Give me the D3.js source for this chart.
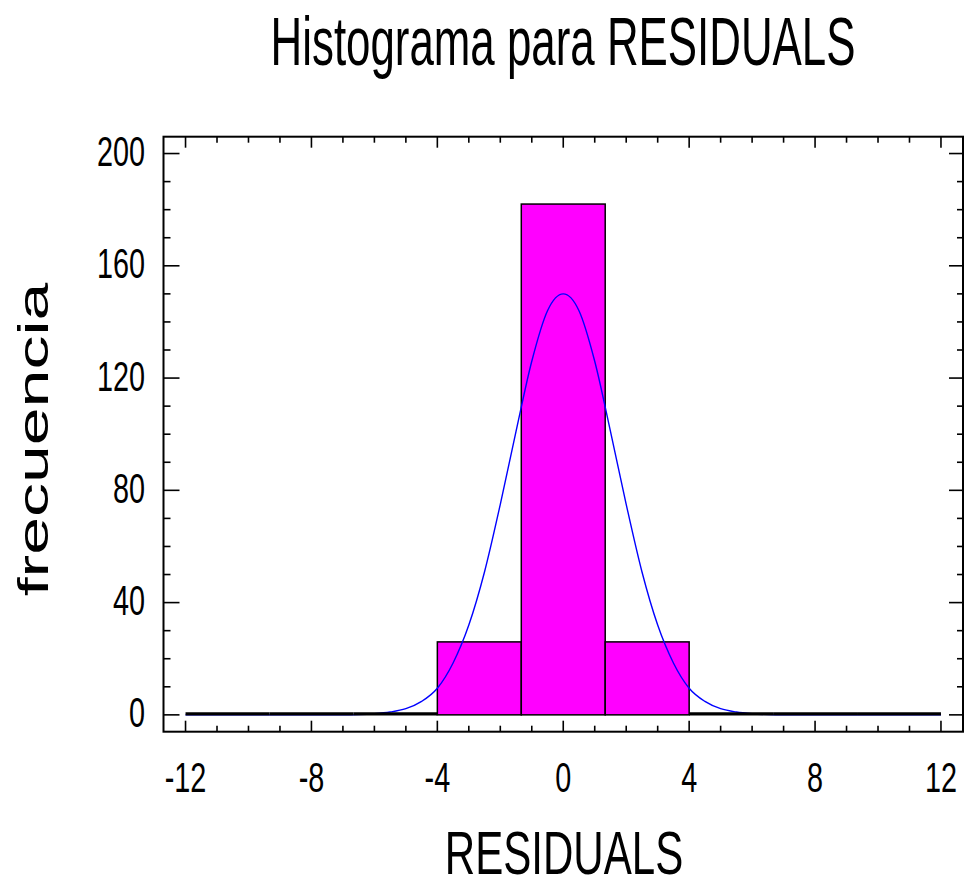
<!DOCTYPE html>
<html>
<head>
<meta charset="utf-8">
<script src="https://cdn.jsdelivr.net/npm/d3@7"></script>
<style>
  html, body { margin: 0; padding: 0; background: #fff; }
  svg { display: block; }
  text { font-family: "Liberation Sans", Arial, sans-serif; fill: #000; }
</style>
</head>
<body>
<svg id="chart" width="964" height="886"></svg>
<script>
// Histogram bins (lower/upper edges) and counts for RESIDUALS
const binLower = [-12, -9.333, -6.667, -4, -1.333, 1.333, 4, 6.667, 9.333];
const binUpper = [-9.333, -6.667, -4, -1.333, 1.333, 4, 6.667, 9.333, 12];
const counts   = [0, 0, 0, 26, 182, 26, 0, 0, 0];

// Fitted normal density, scaled to frequency
const curveX = [-12, -7, -6.5, -6, -5.5, -5, -4.5, -4, -3.5, -3, -2.5, -2, -1.5, -1, -0.5, 0,
                0.5, 1, 1.5, 2, 2.5, 3, 3.5, 4, 4.5, 5, 5.5, 6, 6.5, 7, 12];
const curveY = [0, 0, 0.1, 0.4, 1.0, 2.2, 4.8, 9.5, 18.5, 32, 51, 75, 101, 126, 144, 150,
                144, 126, 101, 75, 51, 32, 18.5, 9.5, 4.8, 2.2, 1.0, 0.4, 0.1, 0, 0];

// Axis ticks and labels
const xMajor = [-12, -8, -4, 0, 4, 8, 12];
const xLabels = ["-12", "-8", "-4", "0", "4", "8", "12"];
const yMajor = [0, 40, 80, 120, 160, 200];
const yLabels = ["0", "40", "80", "120", "160", "200"];

const titleText = "Histograma para RESIDUALS";
const xTitle = "RESIDUALS";
const yTitle = "frecuencia";

const svg = d3.select("#chart");
const plot = { left: 163.5, right: 963, top: 136.7, bottom: 731.7 };

const x = d3.scaleLinear().domain([-12.7, 12.7]).range([plot.left, plot.right]);
const y = d3.scaleLinear().domain([-6, 206]).range([plot.bottom, plot.top]);

const bins = counts.map((c, i) => ({ x0: binLower[i], x1: binUpper[i], n: c }));

// Bars with counts
svg.append("g")
  .selectAll("rect")
  .data(bins.filter(d => d.n > 0))
  .join("rect")
  .attr("x", d => x(d.x0))
  .attr("y", d => y(d.n))
  .attr("width", d => x(d.x1) - x(d.x0))
  .attr("height", d => y(0) - y(d.n))
  .attr("fill", "#ff00ff")
  .attr("stroke", "#000")
  .attr("stroke-width", 1.5);

// Normal curve
const pts = curveX.map((v, i) => [v, curveY[i]]);
svg.append("path")
  .datum(pts)
  .attr("fill", "none")
  .attr("stroke", "#0000ff")
  .attr("stroke-width", 1.4)
  .attr("d", d3.line().x(d => x(d[0])).y(d => y(d[1])).curve(d3.curveMonotoneX));

// Empty bins drawn as flat bars on the baseline
svg.append("g")
  .selectAll("line")
  .data(bins.filter(d => d.n === 0))
  .join("line")
  .attr("x1", d => x(d.x0))
  .attr("x2", d => x(d.x1))
  .attr("y1", d => y(d.n) - 1)
  .attr("y2", d => y(d.n) - 1)
  .attr("stroke", "#000")
  .attr("stroke-width", 3.2);

// Frame
svg.append("rect")
  .attr("x", plot.left).attr("y", plot.top)
  .attr("width", plot.right - plot.left).attr("height", plot.bottom - plot.top)
  .attr("fill", "none").attr("stroke", "#000").attr("stroke-width", 2);

// Inward ticks on all four sides
const xMinor = d3.range(-12, 12.5, 1).filter(v => !xMajor.includes(v));
const yMinor = d3.range(0, 201, 10).filter(v => !yMajor.includes(v));
const ticks = svg.append("g").attr("stroke", "#000").attr("stroke-width", 1.6);

function xTickMarks(vals, len) {
  vals.forEach(v => {
    ticks.append("line").attr("x1", x(v)).attr("x2", x(v))
      .attr("y1", plot.bottom).attr("y2", plot.bottom - len);
    ticks.append("line").attr("x1", x(v)).attr("x2", x(v))
      .attr("y1", plot.top).attr("y2", plot.top + len);
  });
}
function yTickMarks(vals, lenL, lenR) {
  vals.forEach(v => {
    ticks.append("line").attr("x1", plot.left).attr("x2", plot.left + lenL)
      .attr("y1", y(v)).attr("y2", y(v));
    ticks.append("line").attr("x1", plot.right).attr("x2", plot.right - lenR)
      .attr("y1", y(v)).attr("y2", y(v));
  });
}
xTickMarks(xMajor, 11);
xTickMarks(xMinor, 6);
yTickMarks(yMajor, 16, 14);
yTickMarks(yMinor, 7, 6);

// Tick labels (condensed)
const tickSize = 43, squeeze = 0.67;
xMajor.forEach((v, i) => {
  svg.append("text")
    .attr("transform", `translate(${x(v)},${plot.bottom + 60}) scale(${squeeze},1)`)
    .attr("text-anchor", "middle")
    .attr("font-size", tickSize)
    .text(xLabels[i]);
});
yMajor.forEach((v, i) => {
  svg.append("text")
    .attr("transform", `translate(145,${y(v) + 12.5}) scale(${squeeze},1)`)
    .attr("text-anchor", "end")
    .attr("font-size", tickSize)
    .text(yLabels[i]);
});

// Title and axis titles
svg.append("text")
  .attr("transform", "translate(563,65) scale(0.645,1)")
  .attr("text-anchor", "middle")
  .attr("font-size", 68)
  .text(titleText);

svg.append("text")
  .attr("transform", "translate(564,874) scale(0.69,1)")
  .attr("text-anchor", "middle")
  .attr("font-size", 61)
  .text(xTitle);

svg.append("text")
  .attr("transform", "translate(48,439.5) scale(0.62,1) rotate(-90)")
  .attr("text-anchor", "middle")
  .attr("font-size", 68)
  .text(yTitle);
</script>
</body>
</html>
